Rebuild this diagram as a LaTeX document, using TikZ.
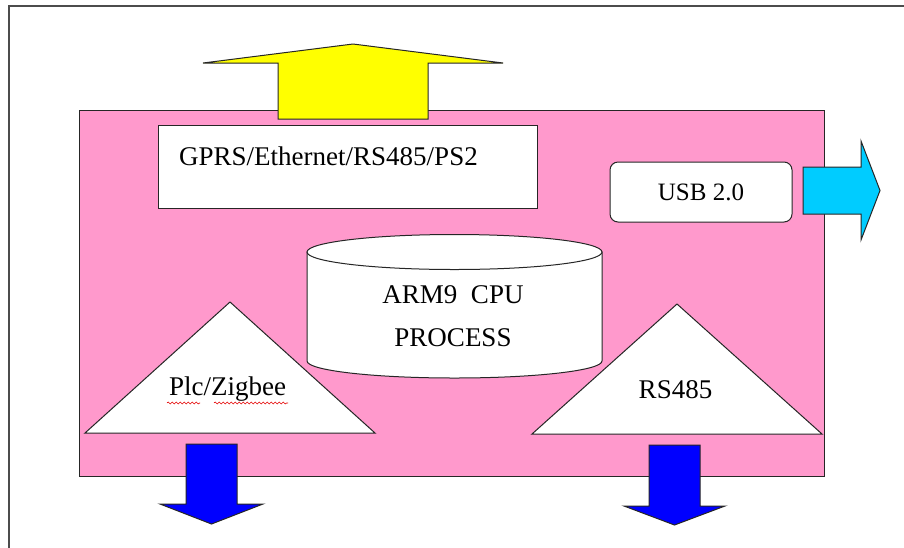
\documentclass[tikz,border=0pt]{standalone}
\usepackage{fontspec}
\setmainfont{Liberation Serif}
\usetikzlibrary{decorations.pathmorphing}
\definecolor{boardpink}{HTML}{FF99CC}
\definecolor{upyellow}{HTML}{FFFF00}
\definecolor{usbcyan}{HTML}{00CCFF}
\definecolor{outblue}{HTML}{0000FF}
\begin{document}
\begin{tikzpicture}[x=1pt,y=-1pt,
  outline/.style={draw=black!85, line width=1pt, line join=miter},
  panel/.style={outline, fill=white, inner sep=0pt},
  lbl/.style={font=\fontsize{27}{32}\selectfont, inner sep=0pt, anchor=base},
  squiggle/.style={draw=red!90!black, line width=0.6pt, decorate,
    decoration={snake, amplitude=1pt, segment length=4pt}}]
\useasboundingbox (0,0) rectangle (904,547);

% page frame (only top and left edges fall inside)
\draw[line width=1.2pt, black!70] (912,6) -- (9,6) -- (9,552);

% main board
\node[outline, fill=boardpink, inner sep=0pt, anchor=north west,
      minimum width=745pt, minimum height=366pt] (board) at (79,110) {};

% upward yellow arrow
\draw[outline, fill=upyellow] (278,119) -- (278,63) -- (203,63) -- (353,44)
  -- (503,63) -- (428,63) -- (428,119) -- cycle;

% interface box
\node[panel, anchor=north west, minimum width=379pt, minimum height=83pt]
  (gprs) at (158,125) {};
\node[lbl, anchor=base west] (gprstext) at (179,165) {GPRS/Ethernet/RS485/PS2};

% USB box and arrow
\node[panel, rounded corners=8pt, minimum width=182pt, minimum height=60pt,
      font=\fontsize{25}{30}\selectfont] (usb) at (701,192) {USB 2.0};
\draw[outline, fill=usbcyan] (803,167) -- (861,167) -- (861,141) -- (880,190.5)
  -- (861,240) -- (861,214) -- (803,214) -- cycle;

% CPU cylinder
\filldraw[outline, fill=white] (307,252) -- (307,361)
  arc[start angle=180, end angle=360, x radius=147.5pt, y radius=17pt]
  -- (602,252) -- cycle;
\filldraw[outline, fill=white] (454.5,252) ellipse[x radius=147.5pt, y radius=17.5pt];
\node[lbl] (cpu1) at (453,303) {ARM9~~CPU};
\node[lbl] (cpu2) at (453,346) {PROCESS};

% left triangle
\draw[panel] (230,302) -- (375,433) -- (85,433) -- cycle;
\node[lbl] (plc) at (227.5,395) {Plc/Zigbee};
\draw[squiggle] (167,403) -- (200,403);
\draw[squiggle] (214,403) -- (288,403);

% right triangle
\draw[panel] (677,304) -- (822,434) -- (532,434) -- cycle;
\node[lbl] (rs) at (675.5,398) {RS485};

% downward blue arrows
\draw[outline, fill=outblue] (186,444) -- (237,444) -- (237,504) -- (263,504)
  -- (211.5,524) -- (160,504) -- (186,504) -- cycle;
\draw[outline, fill=outblue] (649,445) -- (700,445) -- (700,506) -- (725,506)
  -- (674.5,525) -- (624,506) -- (649,506) -- cycle;
\end{tikzpicture}
\end{document}
